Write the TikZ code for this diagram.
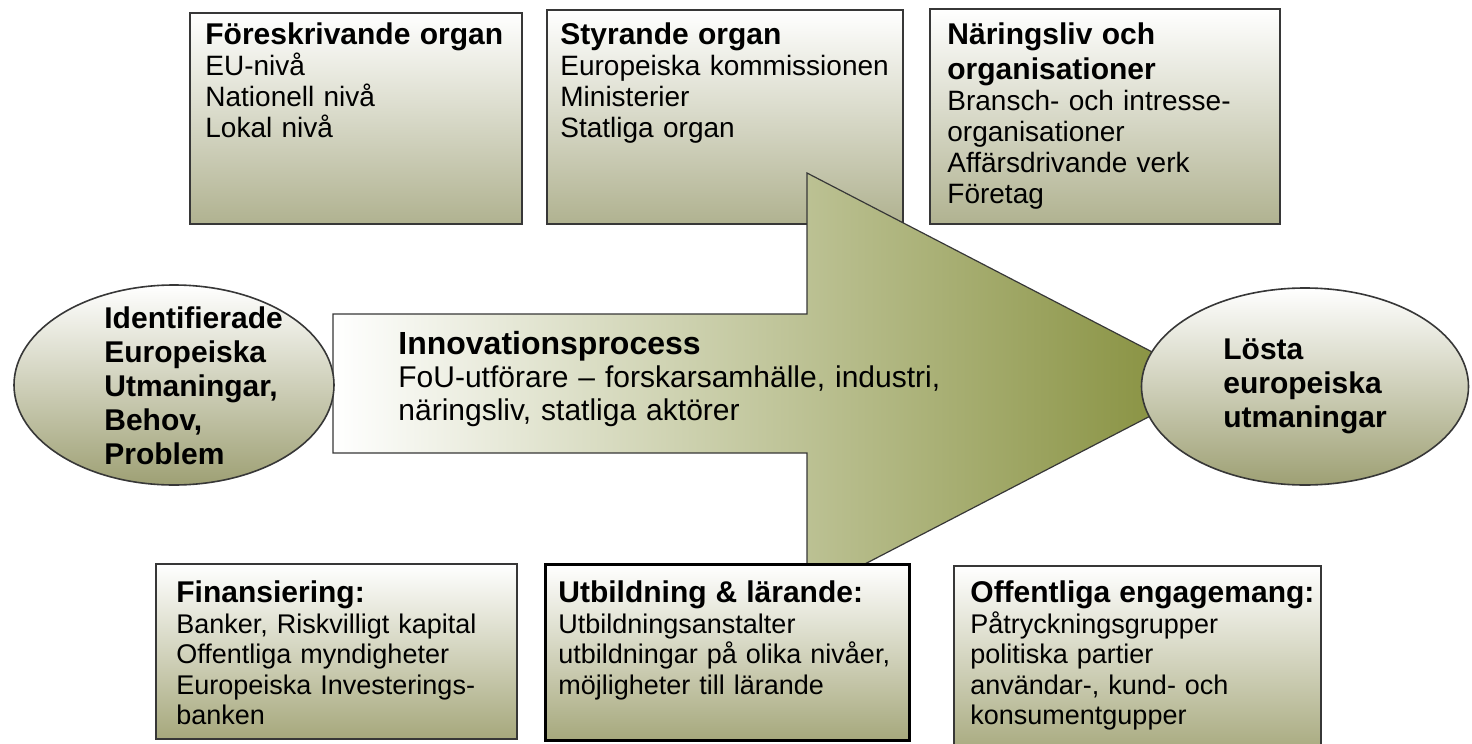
\documentclass[tikz,border=0pt]{standalone}
\usepackage{fontspec}
\setmainfont{Liberation Sans}
\usepackage{tikz}
\usetikzlibrary{shapes.geometric,positioning}
\definecolor{boxolive}{RGB}{176,178,144}
\definecolor{lowolive}{RGB}{166,168,124}
\definecolor{ellolive}{RGB}{158,160,116}
\definecolor{arrowmid}{RGB}{168,170,122}
\definecolor{arrowolive}{RGB}{130,140,55}
\definecolor{edgegray}{RGB}{55,55,55}
\newcommand{\paneltitle}{\fontsize{15}{17.5}\selectfont\bfseries}

\begin{document}
\begin{tikzpicture}[x=0.5pt,y=-0.5pt]
        \tikzstyle{every node}+=[inner sep=0pt]
        \tikzstyle{panel}=[draw=edgegray, line width=1pt, top color=white, bottom color=boxolive, anchor=north west]
        \tikzstyle{lowpanel}=[panel, bottom color=lowolive]
        \tikzstyle{oval}=[ellipse, draw=edgegray, line width=0.8pt, top color=white, bottom color=ellolive]
        \tikzstyle{paneltext}=[anchor=north west, text width=180pt, align=left, font=\fontsize{14}{15.5}\selectfont]
        \tikzstyle{lowtext}=[paneltext, font=\fontsize{13.5}{15.3}\selectfont]
        \tikzstyle{ovaltext}=[align=left, font=\fontsize{15}{17}\selectfont\bfseries]
        \useasboundingbox (0,0) rectangle (1472,744);
        \node [panel, minimum width=166pt, minimum height=105.5pt] (foreskr) at (189,12) {};
        \node [panel, minimum width=178pt, minimum height=107pt] (styr) at (546,9) {};
        \node [panel, minimum width=175pt, minimum height=107.5pt] (naring) at (929,8) {};
        \draw [draw=edgegray, line width=0.6pt, left color=white, middle color=arrowmid, right color=arrowolive] (333,314) -- (807,314) -- (807,173) -- (1213,383.5) -- (807,594) -- (807,453) -- (333,453) -- cycle;
        \node [lowpanel, minimum width=180.5pt, minimum height=87.5pt] (finans) at (155,563) {};
        \node [lowpanel, draw=black, line width=1.6pt, minimum width=182pt, minimum height=88pt] (utbild) at (544,563) {};
        \node [lowpanel, minimum width=183.5pt, minimum height=95pt] (offent) at (953,565) {};
        \node [oval, minimum width=160pt, minimum height=100pt] (ident) at (174,385) {};
        \node [oval, ovaltext, minimum width=163.5pt, minimum height=98.5pt] (losta) at (1305,386.5) {Lösta\\europeiska\\utmaningar};
        \node [paneltext, below right=2pt and 8pt of foreskr.north west] (foreskr-txt) {{\paneltitle\rule{0pt}{14pt}Föreskrivande organ\par}EU-nivå\par Nationell nivå\par Lokal nivå};
        \node [paneltext, below right=3.5pt and 7pt of styr.north west] (styr-txt) {{\paneltitle\rule{0pt}{14pt}Styrande organ\par}Europeiska kommissionen\par Ministerier\par Statliga organ};
        \node [paneltext, below right=4pt and 9pt of naring.north west] (naring-txt) {{\paneltitle\rule{0pt}{14pt}Näringsliv och\par organisationer\par}Bransch- och intresse-\par organisationer\par Affärsdrivande verk\par Företag};
        \node [lowtext, below right=5.5pt and 10.5pt of finans.north west] (finans-txt) {{\paneltitle\rule{0pt}{14pt}Finansiering:\par}Banker, Riskvilligt kapital\par Offentliga myndigheter\par Europeiska Investerings-\par banken};
        \node [lowtext, below right=5.5pt and 7pt of utbild.north west] (utbild-txt) {{\paneltitle\rule{0pt}{14pt}Utbildning \& lärande:\par}Utbildningsanstalter\par utbildningar på olika nivåer,\par möjligheter till lärande};
        \node [lowtext, below right=4.5pt and 8.5pt of offent.north west] (offent-txt) {{\paneltitle\rule{0pt}{14pt}Offentliga engagemang:\par}Påtryckningsgrupper\par politiska partier\par användar-, kund- och\par konsumentgupper};
        \node [anchor=north west, text width=300pt, align=left, font=\fontsize{15}{16.5}\selectfont] (innov) at (398,326) {{\fontsize{16}{17.5}\selectfont\bfseries\rule{0pt}{14pt}Innovationsprocess\par}FoU-utförare – forskarsamhälle, industri,\par näringsliv, statliga aktörer};
        \node [ovaltext, anchor=north west] (ident-txt) at (104,300) {\rule{0pt}{14pt}Identifierade\\Europeiska\\Utmaningar,\\Behov,\\Problem};
    \end{tikzpicture}
\end{document}
